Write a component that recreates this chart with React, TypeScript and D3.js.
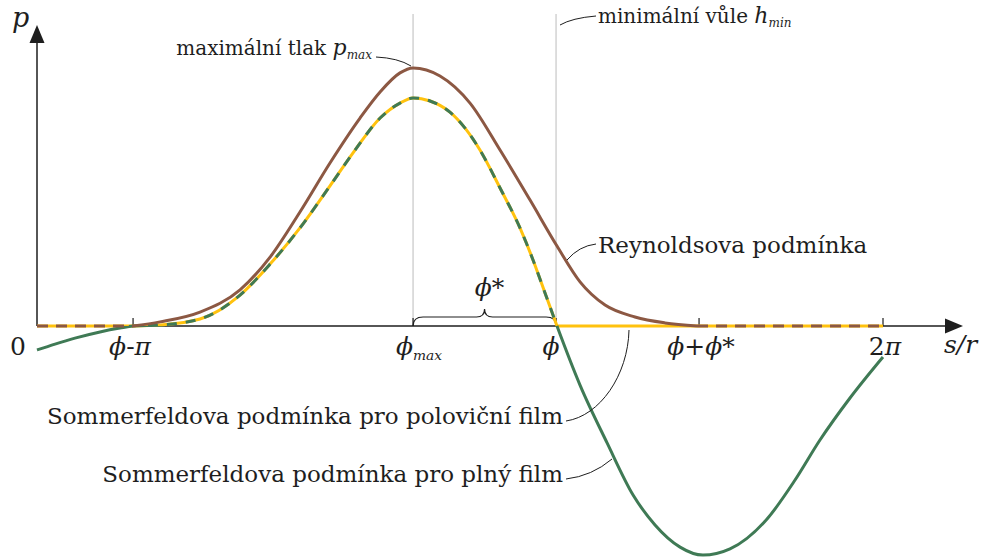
import React from "react";
import * as d3 from "d3";

const W = 984;
const H = 558;

// Angular positions along the bearing circumference (radians)
const PHI = 3.855; // ϕ, position of minimum clearance
const PHI_MAX = 2.793; // ϕ_max, position of peak pressure
const PHI_STAR = PHI - PHI_MAX; // ϕ*

const tickValues = [PHI - Math.PI, PHI_MAX, PHI, PHI + PHI_STAR, 2 * Math.PI];
const tickLabels = ["ϕ-π", "ϕ_max", "ϕ", "ϕ+ϕ*", "2π"];

// [s/r, p] — pressure normalised to the Reynolds peak
const reynolds: [number, number][] = [
  [0, 0], [0.713, 0], [0.914, 0.016], [1.211, 0.054], [1.508, 0.14],
  [1.731, 0.267], [1.953, 0.442], [2.176, 0.632], [2.399, 0.806],
  [2.548, 0.907], [2.696, 0.981], [2.793, 1.0], [2.993, 0.969],
  [3.216, 0.864], [3.439, 0.682], [3.662, 0.488], [3.862, 0.31],
  [4.033, 0.171], [4.219, 0.081], [4.441, 0.035], [4.664, 0.012],
  [4.902, 0], [6.283, 0],
];

// Half-film (Gümbel) Sommerfeld condition
const halfFilm: [number, number][] = [
  [0, 0], [0.713, 0], [0.914, 0.004], [1.211, 0.027], [1.508, 0.12],
  [1.731, 0.24], [1.953, 0.38], [2.176, 0.543], [2.362, 0.682],
  [2.548, 0.806], [2.696, 0.864], [2.793, 0.884], [2.919, 0.872],
  [3.067, 0.829], [3.179, 0.767], [3.29, 0.682], [3.439, 0.535],
  [3.587, 0.38], [3.684, 0.256], [3.773, 0.128], [3.862, 0], [6.283, 0],
];

// Full-film Sommerfeld condition
const fullFilm: [number, number][] = [
  [0, -0.093], [0.134, -0.07], [0.282, -0.047], [0.468, -0.023],
  [0.616, -0.008], [0.713, 0], [0.914, 0.004], [1.211, 0.027],
  [1.508, 0.12], [1.731, 0.24], [1.953, 0.38], [2.176, 0.543],
  [2.362, 0.682], [2.548, 0.806], [2.696, 0.864], [2.793, 0.884],
  [2.919, 0.872], [3.067, 0.829], [3.179, 0.767], [3.29, 0.682],
  [3.439, 0.535], [3.587, 0.38], [3.684, 0.256], [3.773, 0.128],
  [3.862, 0], [4.033, -0.229], [4.234, -0.453], [4.427, -0.655],
  [4.59, -0.771], [4.776, -0.857], [4.946, -0.888], [5.147, -0.864],
  [5.422, -0.748], [5.63, -0.597], [5.815, -0.442], [6.038, -0.279],
  [6.283, -0.12],
];

const BROWN = "#8c5843";
const YELLOW = "#ffc20e";
const GREEN = "#3f7a55";
const GREY = "#cfcfcf";
const INK = "#1e1e1e";
const TEXT_FONT = "'DejaVu Serif', serif";

const x = d3.scaleLinear().domain([0, 2 * Math.PI]).range([37, 883]);
const y = d3.scaleLinear().domain([0, 1]).range([326, 68]);

const smooth = d3
  .line<[number, number]>()
  .x((d) => x(d[0]))
  .y((d) => y(d[1]))
  .curve(d3.curveMonotoneX);
const straight = d3
  .line<[number, number]>()
  .x((d) => x(d[0]))
  .y((d) => y(d[1]));

// Split a series into runs lying on the axis (p = 0) and runs off it
function splitRuns(data: [number, number][]) {
  const runs: { zero: boolean; pts: [number, number][] }[] = [];
  let cur: [number, number][] = [data[0]];
  let curZero: boolean | null = null;
  for (let i = 1; i < data.length; i++) {
    const segZero = data[i - 1][1] === 0 && data[i][1] === 0;
    if (curZero === null) curZero = segZero;
    if (segZero !== curZero) {
      runs.push({ zero: curZero, pts: cur });
      cur = [data[i - 1]];
      curZero = segZero;
    }
    cur.push(data[i]);
  }
  runs.push({ zero: !!curZero, pts: cur });
  return runs;
}

function MathLabel({ text, x: lx, y: ly, size, anchor = "middle" }: any) {
  const [main, sub] = text.split("_");
  const chars = Array.from(main as string);
  return (
    <text x={lx} y={ly} fontSize={size} textAnchor={anchor} fill={INK} fontFamily={TEXT_FONT}>
      {chars.map((c, i) => (
        <tspan key={i} fontStyle={/[0-9+\-*]/.test(c) ? "normal" : "italic"}>
          {c}
        </tspan>
      ))}
      {sub && (
        <tspan fontStyle="italic" fontSize={size * 0.55} dy={size * 0.2}>
          {sub}
        </tspan>
      )}
    </text>
  );
}

export default function App() {
  const y0 = y(0);
  const yellowRuns = splitRuns(halfFilm);
  const brownRuns = splitRuns(reynolds);
  const xa = x(PHI_MAX);
  const xb = x(PHI);
  const xm = (xa + xb) / 2;
  const brace = `M${xa},${y0} Q${xa},${y0 - 9} ${xa + 10},${y0 - 9} L${xm - 8},${y0 - 9} Q${xm},${y0 - 9} ${xm},${y0 - 17} Q${xm},${y0 - 9} ${xm + 8},${y0 - 9} L${xb - 10},${y0 - 9} Q${xb},${y0 - 9} ${xb},${y0}`;

  return (
    <svg width={W} height={H} style={{ position: "absolute", left: 0, top: 0, background: "#fff" }}>
      <defs>
        <clipPath id="above">
          <rect x={0} y={0} width={W} height={y0} />
        </clipPath>
        <clipPath id="below">
          <rect x={0} y={y0} width={W} height={H - y0} />
        </clipPath>
      </defs>

      {/* reference verticals at ϕ_max and ϕ */}
      {[PHI_MAX, PHI].map((v) => (
        <line key={v} x1={x(v)} x2={x(v)} y1={14} y2={y0} stroke={GREY} strokeWidth={1.4} />
      ))}

      {/* axes */}
      <line x1={x(0)} x2={948} y1={y0} y2={y0} stroke={INK} strokeWidth={1.5} />
      <path d={`M963,${y0} L945,${y0 - 7.5} L945,${y0 + 7.5} Z`} fill={INK} />
      <line x1={x(0)} x2={x(0)} y1={y0} y2={40} stroke={INK} strokeWidth={1.5} />
      <path d={`M${x(0)},25 L${x(0) - 7.5},43 L${x(0) + 7.5},43 Z`} fill={INK} />
      {tickValues.map((v) => (
        <line key={v} x1={x(v)} x2={x(v)} y1={y0} y2={y0 - 8} stroke={INK} strokeWidth={1.2} />
      ))}

      {/* brace marking ϕ* */}
      <path d={brace} fill="none" stroke={INK} strokeWidth={1.2} />

      {/* half-film condition */}
      {yellowRuns.map((r, i) => (
        <path
          key={i}
          d={(r.zero ? straight : smooth)(r.pts) || ""}
          fill="none"
          stroke={YELLOW}
          strokeWidth={3}
        />
      ))}

      {/* full-film condition */}
      <path d={smooth(fullFilm) || ""} fill="none" stroke={GREEN} strokeWidth={3} clipPath="url(#below)" />
      <path
        d={smooth(fullFilm) || ""}
        fill="none"
        stroke={GREEN}
        strokeWidth={3}
        strokeDasharray="10 9"
        clipPath="url(#above)"
      />

      {/* Reynolds condition */}
      {brownRuns.map((r, i) => (
        <path
          key={i}
          d={(r.zero ? straight : smooth)(r.pts) || ""}
          fill="none"
          stroke={BROWN}
          strokeWidth={3}
          strokeDasharray={r.zero ? "11 8" : undefined}
        />
      ))}

      {/* axis labels */}
      <MathLabel text="p" x={12} y={27} size={27} anchor="start" />
      <text x={18} y={355} fontSize={25} textAnchor="middle" fill={INK} fontFamily={TEXT_FONT}>
        0
      </text>
      {tickValues.map((v, i) => (
        <MathLabel
          key={i}
          text={tickLabels[i]}
          x={x(v) + (i === 1 ? 6 : i === 2 ? -5 : i === 0 ? -3 : 2)}
          y={355}
          size={25}
        />
      ))}
      <MathLabel text="s/r" x={944} y={353} size={25} anchor="start" />
      <MathLabel text="ϕ*" x={xm + 5} y={296} size={25} />

      {/* annotations */}
      <text x={372} y={55} fontSize={20} textAnchor="end" fill={INK} fontFamily={TEXT_FONT}>
        maximální tlak <tspan fontStyle="italic" fontSize={22}>p</tspan>
        <tspan fontStyle="italic" fontSize={12} dy={4}>max</tspan>
      </text>
      <path d="M376,57 Q398,58 411,66" fill="none" stroke={INK} strokeWidth={1} />

      <text x={598} y={23} fontSize={20} fill={INK} fontFamily={TEXT_FONT}>
        minimální vůle <tspan fontStyle="italic" fontSize={22}>h</tspan>
        <tspan fontStyle="italic" fontSize={12} dy={4}>min</tspan>
      </text>
      <path d="M560,25 Q572,18 596,16" fill="none" stroke={INK} strokeWidth={1} />

      <text x={598} y={253} fontSize={23} fill={INK} fontFamily={TEXT_FONT}>
        Reynoldsova podmínka
      </text>
      <path d="M567,260 Q579,246 596,244" fill="none" stroke={INK} strokeWidth={1} />

      <text x={563} y={424} fontSize={23} textAnchor="end" fill={INK} fontFamily={TEXT_FONT}>
        Sommerfeldova podmínka pro poloviční film
      </text>
      <path d="M566,421 C600,416 628,375 629,330" fill="none" stroke={INK} strokeWidth={1} />

      <text x={563} y={482} fontSize={23} textAnchor="end" fill={INK} fontFamily={TEXT_FONT}>
        Sommerfeldova podmínka pro plný film
      </text>
      <path d="M566,479 Q592,476 612,459" fill="none" stroke={INK} strokeWidth={1} />
    </svg>
  );
}
